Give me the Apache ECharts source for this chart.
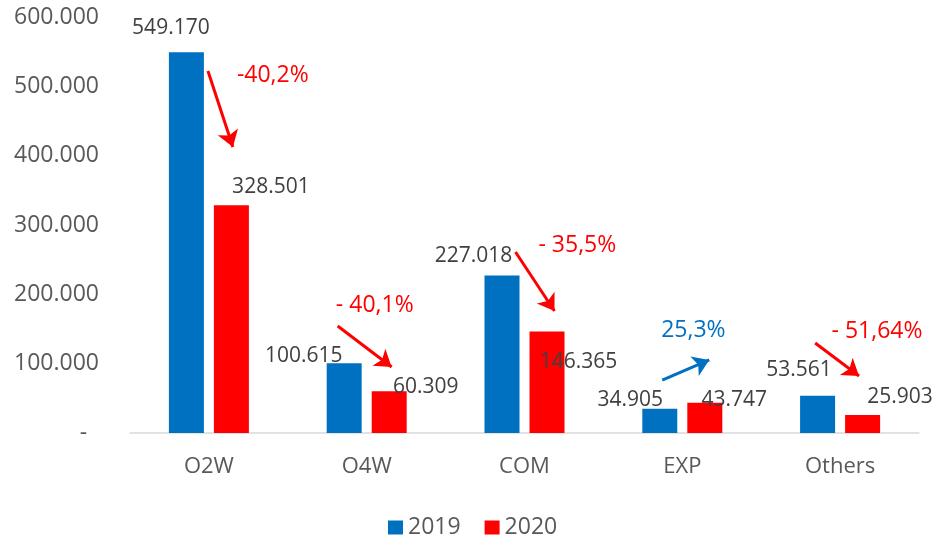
<!DOCTYPE html>
<html>
<head>
<meta charset="utf-8">
<script src="https://cdn.jsdelivr.net/npm/echarts@6/dist/echarts.min.js"></script>
<style>
  html, body { margin: 0; padding: 0; background: #fff; }
  #main { width: 934px; height: 537px; }
</style>
</head>
<body>
<div id="main"></div>
<script>
var categories = ['O2W', 'O4W', 'COM', 'EXP', 'Others'];
var values2019 = [549170, 100615, 227018, 34905, 53561];
var values2020 = [328501, 60309, 146365, 43747, 25903];
var yTicks = [0, 100000, 200000, 300000, 400000, 500000, 600000];

// percent change notes, placed on a hidden 0..5 x scale
var changeText = ['-40,2%', '- 40,1%', '- 35,5%', '25,3%', '- 51,64%'];
var changeAt = [[0.905, 515000], [1.551, 184600], [2.835, 271150], [3.57, 148560], [4.734, 147100]];
var arrowFrom = [[0.494, 522000], [1.316, 154300], [2.443, 261000], [3.373, 76400], [4.342, 129800]];
var arrowTo = [[0.652, 412500], [1.658, 95200], [2.69, 176000], [3.671, 105300], [4.62, 82200]];
var changeUp = [false, false, false, true, false];

// label offsets from bar top-left (px)
var off2019 = [[2, -24], [-23, -7], [-11, -20], [-12, -9], [-1, -26]];
var off2020 = [[57, -18], [54, -4], [49, 30], [47, -3], [55, -18]];

var BLUE = '#0070C0', RED = '#FF0000';
var FONT = 'Open Sans';

function fmt(v) {
    var s = String(v);
    return s.replace(/\B(?=(\d{3})+(?!\d))/g, '.');
}

function barData(vals, offs) {
    return vals.map(function (v, i) {
        return {
            value: v,
            label: { position: offs[i] }
        };
    });
}

var myChart = echarts.init(document.getElementById('main'));
var option = {
    backgroundColor: '#fff',
    animation: false,
    textStyle: { fontFamily: FONT },
    grid: { left: 130, right: 15, top: 17, bottom: 104 },
    legend: {
        data: ['2019', '2020'],
        top: 511,
        left: 383,
        itemWidth: 15,
        itemHeight: 14,
        itemGap: 24,
        icon: 'rect',
        textStyle: { fontSize: 23, color: '#595959', fontFamily: FONT }
    },
    xAxis: [{
        type: 'category',
        data: categories,
        axisLine: { lineStyle: { color: '#d9d9d9', width: 1.5 } },
        axisTick: { show: false },
        axisLabel: { fontSize: 22, color: '#595959', margin: 23, fontFamily: FONT }
    }, {
        type: 'value',
        min: 0,
        max: 5,
        show: false
    }],
    yAxis: {
        type: 'value',
        min: yTicks[0],
        max: yTicks[yTicks.length - 1],
        interval: 100000,
        axisLine: { show: false },
        axisTick: { show: false },
        splitLine: { show: false },
        axisLabel: {
            fontSize: 23,
            color: '#595959',
            margin: 31,
            fontFamily: FONT,
            formatter: function (v) { return v === 0 ? '-  ' : fmt(v); }
        }
    },
    series: [{
        name: '2019',
        type: 'bar',
        barWidth: 35,
        barGap: '28.6%',
        itemStyle: { color: BLUE },
        label: {
            show: true,
            align: 'center',
            verticalAlign: 'middle',
            fontSize: 21,
            color: '#404040',
            fontFamily: FONT,
            formatter: function (p) { return fmt(p.value); }
        },
        data: barData(values2019, off2019)
    }, {
        name: '2020',
        type: 'bar',
        barWidth: 35,
        itemStyle: { color: RED },
        label: {
            show: true,
            align: 'center',
            verticalAlign: 'middle',
            fontSize: 21,
            color: '#404040',
            fontFamily: FONT,
            formatter: function (p) { return fmt(p.value); }
        },
        data: barData(values2020, off2020)
    }, {
        type: 'lines',
        coordinateSystem: 'cartesian2d',
        xAxisIndex: 1,
        silent: true,
        symbol: ['none', 'arrow'],
        symbolSize: 16,
        lineStyle: { width: 3, opacity: 1, curveness: 0 },
        data: arrowFrom.map(function (a, i) {
            return {
                coords: [a, arrowTo[i]],
                lineStyle: { color: changeUp[i] ? BLUE : RED }
            };
        })
    }, {
        type: 'scatter',
        xAxisIndex: 1,
        silent: true,
        symbolSize: 0,
        itemStyle: { opacity: 1 },
        label: {
            show: true,
            position: 'inside',
            fontSize: 23,
            fontFamily: FONT,
            opacity: 1,
            formatter: function (p) { return changeText[p.dataIndex]; }
        },
        data: changeAt.map(function (c, i) {
            return {
                value: c,
                label: { color: changeUp[i] ? BLUE : RED }
            };
        })
    }]
};
myChart.setOption(option);
</script>
</body>
</html>
